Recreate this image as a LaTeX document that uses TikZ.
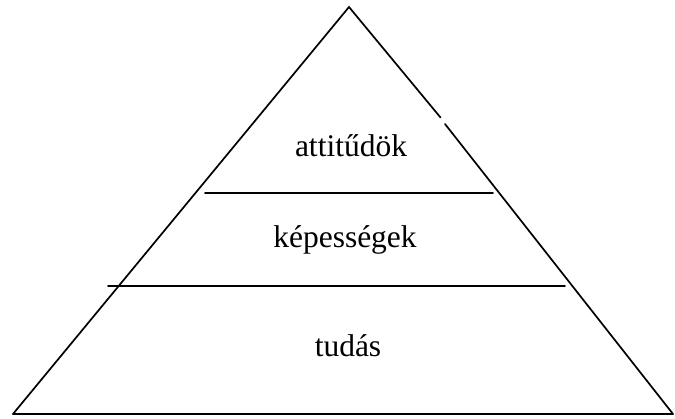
\documentclass[tikz,border=0pt]{standalone}
\usepackage{fontspec}
\setmainfont{Liberation Serif}
\begin{document}
\begin{tikzpicture}[x=1pt,y=-1pt,
  edge/.style={line width=1.7pt,line cap=round},
  lbl/.style={anchor=base,inner sep=0pt,font=\fontsize{31.5}{36}\selectfont}]
\useasboundingbox (0,0) rectangle (675,419);
\coordinate (apex) at (349,7);
\coordinate (bl) at (13,414);
\coordinate (br) at (673,414);
\coordinate (gapa) at (440.5,117.5);
\coordinate (gapb) at (445,124);
\draw[edge] (bl) -- (apex) -- (gapa);
\draw[edge] (gapb) -- (br);
\draw[edge] (bl) -- (br);
\coordinate (ul) at (205,193);
\coordinate (ur) at (493,193);
\coordinate (ll) at (108,286);
\coordinate (lr) at (565,286);
\draw[edge] (ul) -- (ur);
\draw[edge] (ll) -- (lr);
\node[lbl] (att) at (351,157) {attitűdök};
\node[lbl] (kep) at (345,248) {képességek};
\node[lbl] (tud) at (348,357) {tudás};
\end{tikzpicture}
\end{document}
